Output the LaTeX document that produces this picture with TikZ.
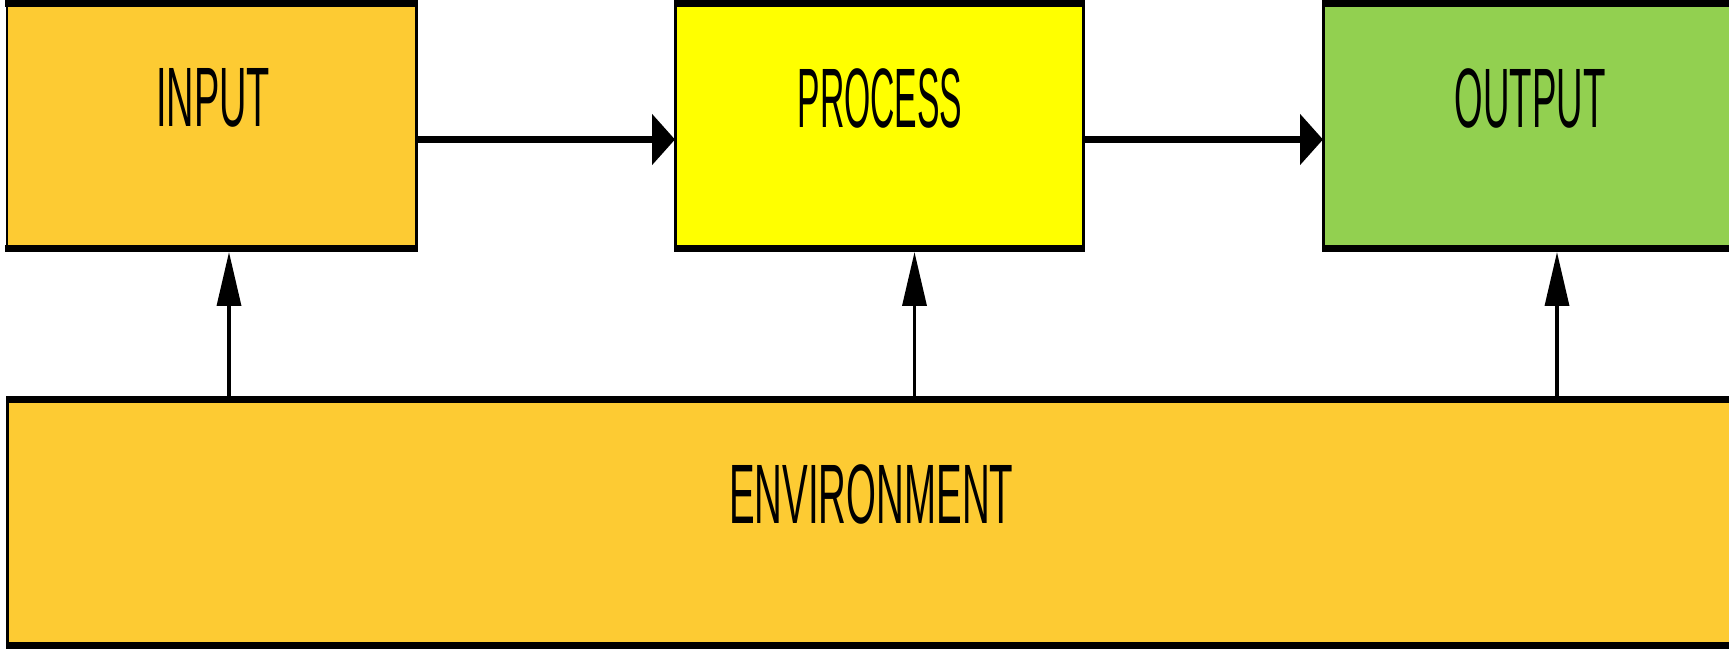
\documentclass[tikz,border=0pt]{standalone}
\usepackage{fontspec}
\usepackage{graphicx}
\setmainfont{Liberation Sans}
\usetikzlibrary{arrows.meta,fit,calc}

\definecolor{amber}{HTML}{FDCB33}
\definecolor{lemon}{HTML}{FFFF00}
\definecolor{leaf}{HTML}{92D050}

% narrow, tall lettering
\newcommand{\slimtext}[2]{\scalebox{#1}[1]{#2}}

\begin{document}
\begin{tikzpicture}[x=0.02cm,y=-0.02cm,
  box/.style={draw=black,line width=0.06cm,inner sep=0pt,outer sep=0pt},
  hrule/.style={line width=0.14cm,line cap=rect,shorten <=0.04cm,shorten >=0.04cm},
  lbl/.style={inner sep=0pt,font=\fontsize{48}{50}\selectfont},
  harrow/.style={line width=0.14cm,-{Triangle[length=0.46cm,width=1.0cm]}},
  varrow/.style={line width=0.07cm,-{Triangle[length=1.08cm,width=0.48cm]}}]

\clip (0,0) rectangle (1729,650);
\fill[white] (0,0) rectangle (1729,650);

% blocks
\node[box,fill=amber,fit={(7,3) (416,248.5)}] (in) {};
\node[box,fill=lemon,fit={(675,3) (1083,248.5)}] (pr) {};
\node[box,fill=leaf,fit={(1323,3) (1737,248.5)}] (out) {};
\node[box,fill=amber,fit={(7.5,399.5) (1735,645)}] (env) {};

% heavier horizontal edges
\foreach \b in {in,pr,out,env}{
  \draw[hrule] (\b.north west) -- (\b.north east);
  \draw[hrule] (\b.south west) -- (\b.south east);
}

% labels
\node[lbl] (inT)  at ($(in.north)+(1.5,95)$)  {\slimtext{0.45}{INPUT}};
\node[lbl] (prT)  at ($(pr.north)+(1,95)$)    {\slimtext{0.40}{PROCESS}};
\node[lbl] (outT) at ($(out.north)+(0,95)$)   {\slimtext{0.435}{OUTPUT}};
\node[lbl] (envT) at ($(env.north)+(0,95)$)   {\slimtext{0.456}{ENVIRONMENT}};

% flow
\draw[harrow] ([yshift=-0.275cm]in.east) -- ([yshift=-0.275cm]pr.west);
\draw[harrow] ([yshift=-0.275cm]pr.east) -- ([yshift=-0.275cm]out.west);

% environment feeds
\draw[varrow] (env.north -| 229,0) -- ([yshift=-0.07cm]in.south -| 229,0);
\draw[varrow] (env.north -| 914.5,0) -- ([yshift=-0.07cm]pr.south -| 914.5,0);
\draw[varrow] (env.north -| 1557,0) -- ([yshift=-0.07cm]out.south -| 1557,0);
\end{tikzpicture}
\end{document}
